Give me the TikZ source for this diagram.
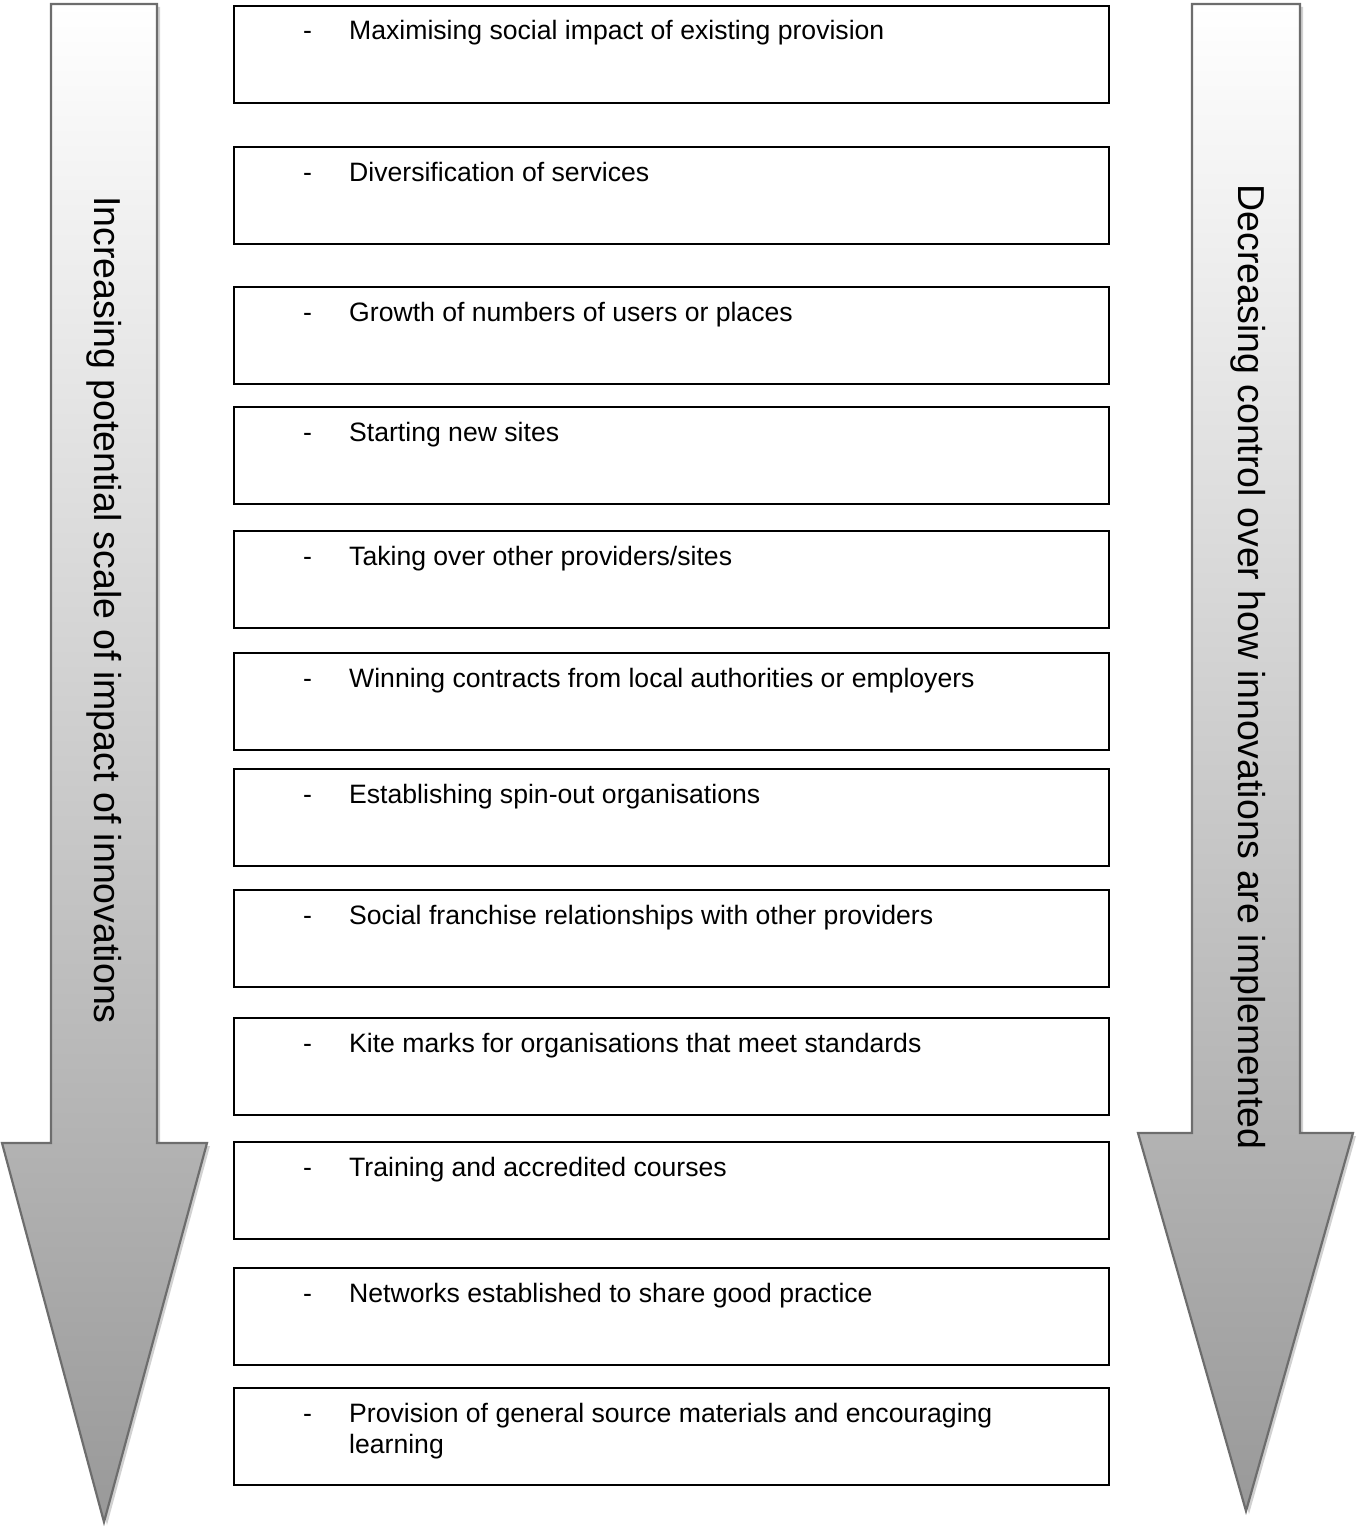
\documentclass[tikz,border=0pt]{standalone}
\usepackage{fontspec}
\setmainfont{Liberation Sans}
\usetikzlibrary{calc}
\definecolor{arrowedge}{HTML}{6D6D6D}
\tikzset{
  itembox/.style={draw=black, line width=1.6pt, minimum width=875pt, minimum height=97pt, inner sep=0pt},
  itemtext/.style={anchor=base west, inner sep=0pt, font=\fontsize{26.6}{31}\selectfont},
  bigarrow/.style={draw=arrowedge, line width=2.2pt, top color=white, bottom color=black!40, line join=miter},
  arrowshadow/.style={fill=black!18, draw=none},
  arrowtext/.style={rotate=-90, inner sep=0pt, font=\fontsize{37.5}{42}\selectfont}
}
\begin{document}
\begin{tikzpicture}[x=1pt,y=-1pt]
\useasboundingbox (0,0) rectangle (1355,1528);
% left arrow
\fill[arrowshadow,xshift=3pt,yshift=-3pt] (51,4) -- (157,4) -- (157,1143) -- (207,1143) -- (104,1522) -- (2,1143) -- (51,1143) -- cycle;
\path[bigarrow] (51,4) -- (157,4) -- (157,1143) -- (207,1143) -- (104,1522) -- (2,1143) -- (51,1143) -- cycle;
\node[arrowtext] (lefttext) at (104,610) {Increasing potential scale of impact of innovations};
% right arrow
\fill[arrowshadow,xshift=3pt,yshift=-3pt] (1192,4) -- (1300,4) -- (1300,1133) -- (1353,1133) -- (1246,1511) -- (1138,1133) -- (1192,1133) -- cycle;
\path[bigarrow] (1192,4) -- (1300,4) -- (1300,1133) -- (1353,1133) -- (1246,1511) -- (1138,1133) -- (1192,1133) -- cycle;
\node[arrowtext] (righttext) at (1248,667) {Decreasing control over how innovations are implemented};
% boxes
\foreach \name/\top/\txt in {
  b1/5/{Maximising social impact of existing provision},
  b2/146/{Diversification of services},
  b3/286/{Growth of numbers of users or places},
  b4/406/{Starting new sites},
  b5/530/{Taking over other providers/sites},
  b6/652/{Winning contracts from local authorities or employers},
  b7/768/{Establishing spin-out organisations},
  b8/889/{Social franchise relationships with other providers},
  b9/1017/{Kite marks for organisations that meet standards},
  b10/1141/{Training and accredited courses},
  b11/1267/{Networks established to share good practice},
  b12/1387/{Provision of general source materials and encouraging\\learning}}
{
  \node[itembox, anchor=north west] (\name) at (233,\top) {};
  \node[itemtext] (\name dash) at ($(\name.north west)+(70,35)$) {-};
  \node[itemtext] (\name text) at ($(\name.north west)+(116,35)$) {\parbox[t]{700pt}{\raggedright\txt}};
}
\end{tikzpicture}
\end{document}
